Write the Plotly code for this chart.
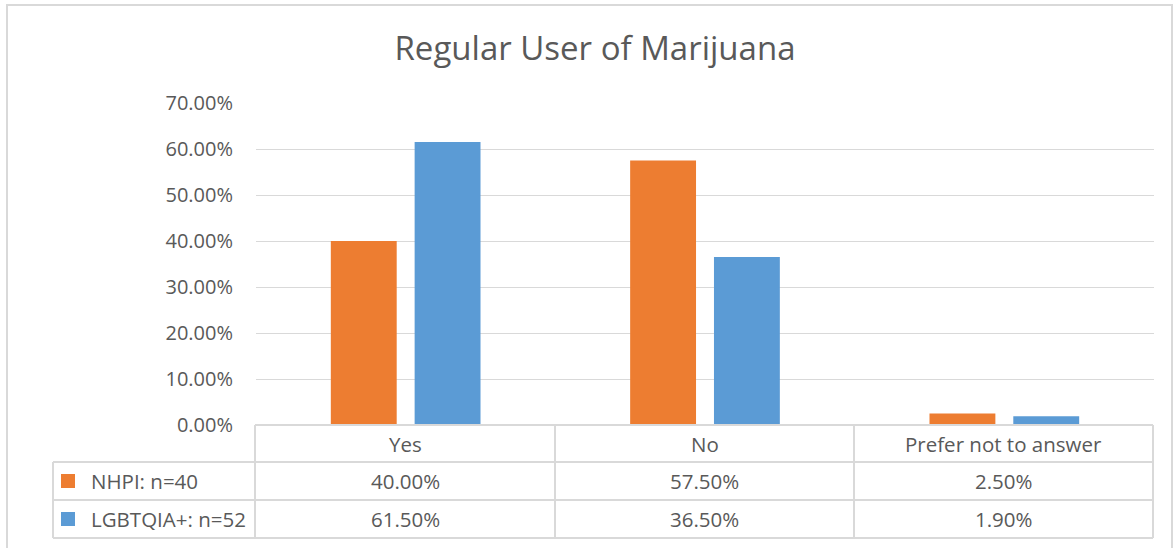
import plotly.graph_objects as go

categories = ["Yes", "No", "Prefer not to answer"]
series_names = ["NHPI: n=40", "LGBTQIA+: n=52"]
nhpi = [0.40, 0.575, 0.025]
lgbt = [0.615, 0.365, 0.019]
colors = ["#ED7D31", "#5B9BD5"]
y_ticks = [0, 0.1, 0.2, 0.3, 0.4, 0.5, 0.6, 0.7]

W, H = 1173, 548
FONT = "Open Sans, sans-serif"
TXT = "#595959"
GRID = "#D9D9D9"
FS = 20.5

def px(x):
    return x / W

def py(y):
    return 1 - y / H

x0, x1 = 256, 1154
y0, ytop = 425, 103

fig = go.Figure()
for name, vals, c in zip(series_names, [nhpi, lgbt], colors):
    fig.add_trace(go.Bar(x=categories, y=vals, name=name, marker_color=c,
                         marker_line_width=0, showlegend=False))

fig.update_layout(
    width=W, height=H, margin=dict(l=0, r=0, t=0, b=0, autoexpand=False),
    paper_bgcolor="white", plot_bgcolor="white",
    barmode="group", bargap=0.44, bargroupgap=0.214,
    font=dict(family=FONT, color=TXT, size=FS),
    title=dict(text="Regular User of Marijuana", x=595 / W, xanchor="center",
               y=py(48), yanchor="middle", font=dict(size=33, color=TXT, family=FONT)),
    xaxis=dict(domain=[px(x0), px(x1)], showticklabels=False, showgrid=False,
               zeroline=False, showline=False, ticks="", automargin=False),
    yaxis=dict(domain=[py(y0), py(ytop)], range=[0, 0.7], tickvals=y_ticks,
               tickformat=".2%", showgrid=True, gridcolor=GRID, gridwidth=1,
               zeroline=False, showline=False, ticks="", ticklabelstandoff=22,
               automargin=False, tickfont=dict(size=20, color=TXT)),
)

shapes = []
# outer chart border
shapes.append(dict(type="rect", xref="paper", yref="paper",
                   x0=px(7), x1=px(1172), y0=py(560), y1=py(5),
                   line=dict(color=GRID, width=2), fillcolor="rgba(0,0,0,0)"))

col_edges = [255, 555, 854, 1153]
row_edges = [425, 462, 500, 538]
LEFT = 53
def line(xa, ya, xb, yb):
    shapes.append(dict(type="line", xref="paper", yref="paper",
                       x0=px(xa), y0=py(ya), x1=px(xb), y1=py(yb),
                       line=dict(color=GRID, width=2)))

line(col_edges[0], row_edges[0], col_edges[-1], row_edges[0])
for r in row_edges[1:]:
    line(LEFT, r, col_edges[-1], r)
for c in col_edges:
    line(c, row_edges[0], c, row_edges[-1])
line(LEFT, row_edges[1], LEFT, row_edges[-1])

annotations = []
for i, cat in enumerate(categories):
    cx = (col_edges[i] + col_edges[i + 1]) / 2
    annotations.append(dict(x=px(cx), y=py((row_edges[0] + row_edges[1]) / 2),
                            xref="paper", yref="paper",
                            xanchor="center", yanchor="middle", text=cat,
                            showarrow=False, font=dict(size=FS, color=TXT)))
    for j, vals in enumerate([nhpi, lgbt]):
        cy = (row_edges[j + 1] + row_edges[j + 2]) / 2
        annotations.append(dict(x=px(cx), y=py(cy), xref="paper", yref="paper",
                                xanchor="center", yanchor="middle",
                                text=f"{vals[i]*100:.2f}%",
                                showarrow=False, font=dict(size=FS, color=TXT)))

for j, (name, c) in enumerate(zip(series_names, colors)):
    cy = (row_edges[j + 1] + row_edges[j + 2]) / 2
    shapes.append(dict(type="rect", xref="paper", yref="paper",
                       x0=px(61), x1=px(75), y0=py(cy + 7), y1=py(cy - 7),
                       fillcolor=c, line=dict(width=0)))
    annotations.append(dict(x=px(89), y=py(cy), xref="paper", yref="paper",
                            text=name, showarrow=False, xanchor="left",
                            yanchor="middle", font=dict(size=FS, color=TXT)))

fig.update_layout(shapes=shapes, annotations=annotations)
fig.write_html("out.html")
